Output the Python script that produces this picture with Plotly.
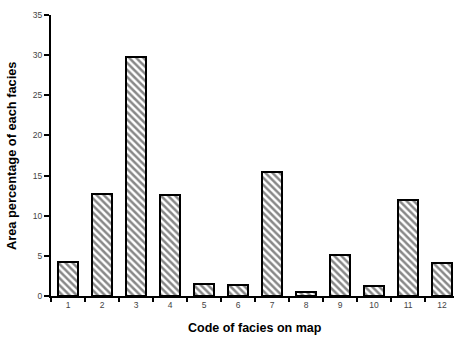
import plotly.graph_objects as go

codes = [1, 2, 3, 4, 5, 6, 7, 8, 9, 10, 11, 12]
area_pct = [4.2, 12.65, 29.8, 12.6, 1.45, 1.4, 15.5, 0.45, 5.1, 1.3, 12.0, 4.05]
y_ticks = [0, 5, 10, 15, 20, 25, 30, 35]

L, R, T, B = 51, 1, 15, 42
W, H = 455, 338
pw, ph = W - L - R, H - T - B

fig = go.Figure()
fig.add_trace(go.Bar(
    x=codes, y=area_pct, width=0.6,
    marker=dict(
        color="white",
        line=dict(color="black", width=2),
        pattern=dict(shape="\\", fgcolor="#111111", bgcolor="white", size=5, solidity=0.5),
    ),
))

fig.update_layout(
    width=W, height=H,
    margin=dict(l=L, r=R, t=T, b=B, autoexpand=False),
    paper_bgcolor="white", plot_bgcolor="white",
    showlegend=False,
    font=dict(family="Liberation Sans, Arial, sans-serif", color="black"),
    bargap=0,
    annotations=[
        dict(text="<b>Code of facies on map</b>", xref="paper", yref="paper",
             x=(255 - L) / pw, y=(T + ph - 328) / ph, showarrow=False,
             font=dict(size=12.5, color="black"), xanchor="center", yanchor="middle"),
        dict(text="<b>Area percentage of each facies</b>", xref="paper", yref="paper",
             x=(11 - L) / pw, y=(T + ph - 156) / ph, showarrow=False, textangle=-90,
             font=dict(size=12.8, color="black"), xanchor="center", yanchor="middle"),
    ],
)
fig.update_xaxes(
    range=[0.5, 12.35], tickvals=codes, ticktext=[str(c) for c in codes],
    ticks="", showgrid=False, zeroline=False, automargin=False,
    showline=True, linecolor="black", linewidth=2,
    tickfont=dict(size=8.5, color="#444444"),
    minor=dict(tickvals=[c + 0.5 for c in [0] + codes], ticks="outside", ticklen=4,
               tickwidth=2, tickcolor="black", showgrid=False),
)
fig.update_yaxes(
    range=[0, 35], tickvals=y_ticks, showgrid=False, zeroline=False, automargin=False,
    showline=True, linecolor="black", linewidth=2,
    ticks="outside", ticklen=5, tickwidth=2, tickcolor="black",
    tickfont=dict(size=8.5, color="#444444"),
)

fig.write_html("out.html", config={"displayModeBar": False},
               post_script="document.body.style.margin='0';document.body.style.overflow='hidden';")
